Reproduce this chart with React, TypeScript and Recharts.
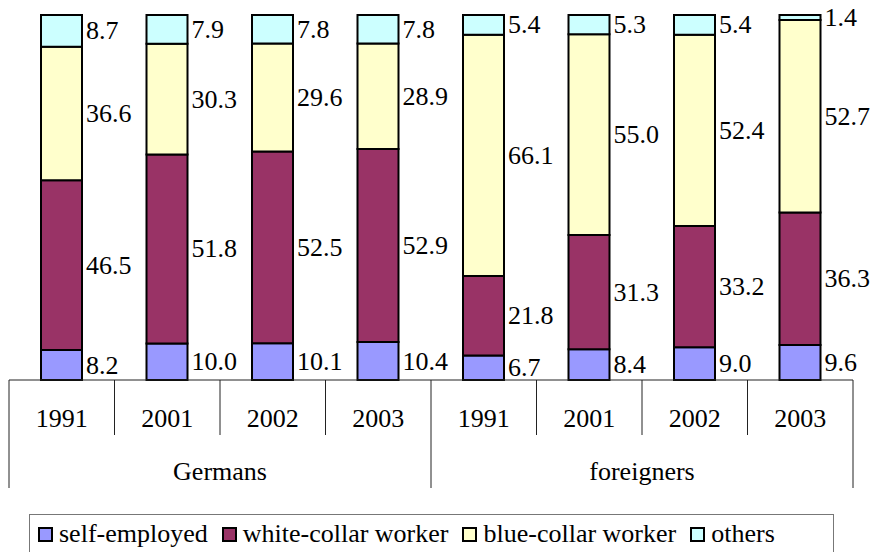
import { Bar, BarChart, LabelList, Legend, XAxis, YAxis } from "recharts";

const years = ["1991", "2001", "2002", "2003", "1991", "2001", "2002", "2003"];
const groups = ["Germans", "foreigners"];
const selfEmployed = [8.2, 10.0, 10.1, 10.4, 6.7, 8.4, 9.0, 9.6];
const whiteCollar = [46.5, 51.8, 52.5, 52.9, 21.8, 31.3, 33.2, 36.3];
const blueCollar = [36.6, 30.3, 29.6, 28.9, 66.1, 55.0, 52.4, 52.7];
const others = [8.7, 7.9, 7.8, 7.8, 5.4, 5.3, 5.4, 1.4];

const series = [
  { key: "self", label: "self-employed", color: "#9999FF", values: selfEmployed },
  { key: "white", label: "white-collar worker", color: "#993366", values: whiteCollar },
  { key: "blue", label: "blue-collar worker", color: "#FFFFCC", values: blueCollar },
  { key: "others", label: "others", color: "#CCFFFF", values: others },
];

const data = years.map((y, i) => {
  const row: Record<string, number | string> = { key: `${groups[Math.floor(i / 4)]}-${y}`, year: y };
  series.forEach((s) => (row[s.key] = s.values[i]));
  return row;
});

const W = 870;
const H = 552;
const LEGEND_H = 40;
const AXIS_H = 115;
const M = { top: 15, right: 17, left: 9, bottom: 172 - AXIS_H - LEGEND_H };
const BAND = (W - M.left - M.right) / years.length;
const FONT = "Liberation Serif, Times New Roman, serif";
const FS = 26;

function YearTick(props: any) {
  const { x, y, index } = props;
  const left = x - BAND / 2;
  const isGroupStart = index % 4 === 0;
  const isLast = index === years.length - 1;
  return (
    <g>
      <line x1={left} x2={left} y1={y} y2={y + (isGroupStart ? 108 : 55)} stroke="#222" strokeWidth={1} />
      {isLast && <line x1={left + BAND} x2={left + BAND} y1={y} y2={y + 108} stroke="#222" strokeWidth={1} />}
      <text x={x} y={y + 38} textAnchor="middle" dominantBaseline="central" fontFamily={FONT} fontSize={FS} fill="#000">
        {years[index]}
      </text>
      {isGroupStart && (
        <text x={left + BAND * 2} y={y + 91} textAnchor="middle" dominantBaseline="central" fontFamily={FONT} fontSize={FS} fill="#000">
          {groups[index / 4]}
        </text>
      )}
    </g>
  );
}

function SideLabel(props: any) {
  const { x, y, width, height, value } = props;
  return (
    <text x={x + width + 4} y={y + height / 2} dominantBaseline="central" fontFamily={FONT} fontSize={FS} fill="#000">
      {Number(value).toFixed(1)}
    </text>
  );
}

function LegendBox() {
  return (
    <div
      style={{
        boxSizing: "border-box",
        height: LEGEND_H,
        width: 805,
        border: "1.5px solid #777",
        display: "flex",
        alignItems: "flex-start",
        gap: 14,
        padding: "4px 8px 0",
        fontFamily: FONT,
        fontSize: FS,
        color: "#000",
        whiteSpace: "nowrap",
        lineHeight: "30px",
      }}
    >
      {series.map((s) => (
        <span key={s.key} style={{ display: "flex", alignItems: "center" }}>
          <span
            style={{
              display: "inline-block",
              boxSizing: "border-box",
              width: 15,
              height: 15,
              background: s.color,
              border: "2px solid #000",
              marginRight: 6,
            }}
          />
          {s.label}
        </span>
      ))}
    </div>
  );
}

export default function App() {
  return (
    <div style={{ position: "absolute", left: 0, top: 0, background: "#fff" }}>
      <BarChart width={W} height={H} data={data} margin={M} barSize={41}>
        <YAxis hide domain={[0, 100]} />
        <XAxis
          dataKey="key"
          height={AXIS_H}
          tick={<YearTick />}
          tickLine={false}
          tickSize={0}
          tickMargin={0}
          interval={0}
          axisLine={{ stroke: "#222", strokeWidth: 1 }}
        />
        <Legend
          verticalAlign="bottom"
          content={<LegendBox />}
          wrapperStyle={{ left: 29, top: 514, width: 805, height: LEGEND_H }}
        />
        {series.map((s) => (
          <Bar
            key={s.key}
            dataKey={s.key}
            name={s.label}
            stackId="a"
            fill={s.color}
            stroke="#000"
            strokeWidth={2}
            isAnimationActive={false}
          >
            <LabelList dataKey={s.key} content={<SideLabel />} />
          </Bar>
        ))}
      </BarChart>
    </div>
  );
}
